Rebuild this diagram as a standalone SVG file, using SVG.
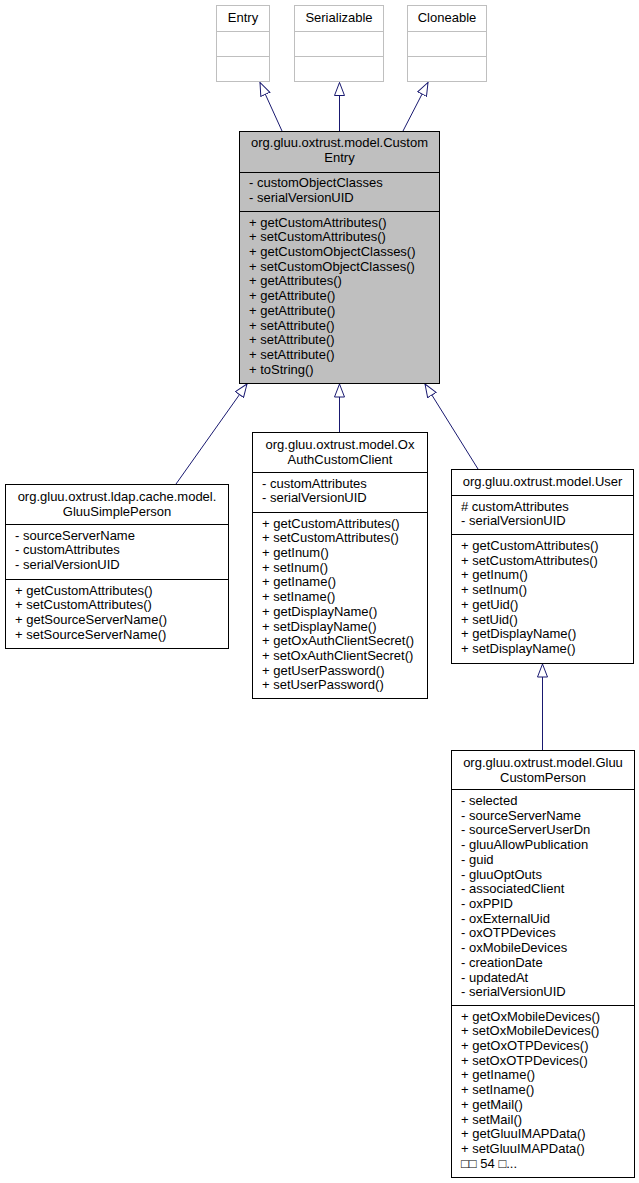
<svg xmlns="http://www.w3.org/2000/svg" width="639" height="1183" viewBox="0 0 639 1183">
<style>
text{font-family:"Liberation Sans",Arial,sans-serif;font-size:13px;fill:#000}
.c{text-anchor:middle}
.ext{fill:#fff;stroke:#bfbfbf;stroke-width:1}
.extl{stroke:#bfbfbf;stroke-width:1}
.box{fill:#fff;stroke:#000;stroke-width:1}
.cur{fill:#bfbfbf;stroke:#000;stroke-width:1}
.div{stroke:#000;stroke-width:1}
.edge{stroke:#191970;stroke-width:1;fill:none;marker-end:url(#inh)}
</style>
<defs>
<marker id="inh" viewBox="0 0 14 11" markerWidth="14" markerHeight="11" refX="13.5" refY="5.5" orient="auto" markerUnits="userSpaceOnUse">
<path d="M0.5,0.5 L13.5,5.5 L0.5,10.5 Z" fill="#fff" stroke="#191970" stroke-width="1"/>
</marker>
</defs>
<rect width="639" height="1183" fill="#fff"/>

<g id="connectors">
<line class="edge" x1="282" y1="131" x2="260" y2="82.5"/>
<line class="edge" x1="339.5" y1="131" x2="339.5" y2="82.5"/>
<line class="edge" x1="403" y1="131" x2="428" y2="82.5"/>
<line class="edge" x1="176" y1="484" x2="247" y2="384"/>
<line class="edge" x1="339.5" y1="432" x2="339.5" y2="384"/>
<line class="edge" x1="478" y1="469" x2="425" y2="384"/>
<line class="edge" x1="542.5" y1="750" x2="542.5" y2="664"/>
</g>

<g id="node-entry">
<rect class="ext" x="216.5" y="5.5" width="53" height="76"/>
<line class="extl" x1="216.5" y1="31.5" x2="269.5" y2="31.5"/>
<line class="extl" x1="216.5" y1="56.5" x2="269.5" y2="56.5"/>
<text class="c" x="243" y="22">Entry</text>
</g>
<g id="node-serializable">
<rect class="ext" x="294.5" y="5.5" width="89" height="76"/>
<line class="extl" x1="294.5" y1="31.5" x2="383.5" y2="31.5"/>
<line class="extl" x1="294.5" y1="56.5" x2="383.5" y2="56.5"/>
<text class="c" x="339" y="22">Serializable</text>
</g>
<g id="node-cloneable">
<rect class="ext" x="407.5" y="5.5" width="79" height="76"/>
<line class="extl" x1="407.5" y1="31.5" x2="486.5" y2="31.5"/>
<line class="extl" x1="407.5" y1="56.5" x2="486.5" y2="56.5"/>
<text class="c" x="447" y="22">Cloneable</text>
</g>

<g id="node-customentry">
<rect class="cur" x="239.5" y="131.5" width="200" height="252"/>
<line class="div" x1="239.5" y1="172.5" x2="439.5" y2="172.5"/>
<line class="div" x1="239.5" y1="211.5" x2="439.5" y2="211.5"/>
<text class="c" x="339.5" y="147">org.gluu.oxtrust.model.Custom</text>
<text class="c" x="339.5" y="162">Entry</text>
<text x="249" y="187">- customObjectClasses<tspan x="249" dy="14.7">- serialVersionUID</tspan></text>
<text x="249" y="226.5">+ getCustomAttributes()<tspan x="249" dy="14.72">+ setCustomAttributes()</tspan><tspan x="249" dy="14.72">+ getCustomObjectClasses()</tspan><tspan x="249" dy="14.72">+ setCustomObjectClasses()</tspan><tspan x="249" dy="14.72">+ getAttributes()</tspan><tspan x="249" dy="14.72">+ getAttribute()</tspan><tspan x="249" dy="14.72">+ getAttribute()</tspan><tspan x="249" dy="14.72">+ setAttribute()</tspan><tspan x="249" dy="14.72">+ setAttribute()</tspan><tspan x="249" dy="14.72">+ setAttribute()</tspan><tspan x="249" dy="14.72">+ toString()</tspan></text>
</g>

<g id="node-gluusimpleperson">
<rect class="box" x="5.5" y="484.5" width="223" height="164"/>
<line class="div" x1="5.5" y1="524.5" x2="228.5" y2="524.5"/>
<line class="div" x1="5.5" y1="579.5" x2="228.5" y2="579.5"/>
<text class="c" x="117" y="500.5">org.gluu.oxtrust.ldap.cache.model.</text>
<text class="c" x="117" y="515.5">GluuSimplePerson</text>
<text x="15" y="539.5">- sourceServerName<tspan x="15" dy="14.72">- customAttributes</tspan><tspan x="15" dy="14.72">- serialVersionUID</tspan></text>
<text x="15" y="594.5">+ getCustomAttributes()<tspan x="15" dy="14.72">+ setCustomAttributes()</tspan><tspan x="15" dy="14.72">+ getSourceServerName()</tspan><tspan x="15" dy="14.72">+ setSourceServerName()</tspan></text>
</g>

<g id="node-oxauthcustomclient">
<rect class="box" x="252.5" y="432.5" width="175" height="266"/>
<line class="div" x1="252.5" y1="472.5" x2="427.5" y2="472.5"/>
<line class="div" x1="252.5" y1="512.5" x2="427.5" y2="512.5"/>
<text class="c" x="340" y="448.5">org.gluu.oxtrust.model.Ox</text>
<text class="c" x="340" y="463.5">AuthCustomClient</text>
<text x="262" y="487.5">- customAttributes<tspan x="262" dy="14.72">- serialVersionUID</tspan></text>
<text x="262" y="527.5">+ getCustomAttributes()<tspan x="262" dy="14.72">+ setCustomAttributes()</tspan><tspan x="262" dy="14.72">+ getInum()</tspan><tspan x="262" dy="14.72">+ setInum()</tspan><tspan x="262" dy="14.72">+ getIname()</tspan><tspan x="262" dy="14.72">+ setIname()</tspan><tspan x="262" dy="14.72">+ getDisplayName()</tspan><tspan x="262" dy="14.72">+ setDisplayName()</tspan><tspan x="262" dy="14.72">+ getOxAuthClientSecret()</tspan><tspan x="262" dy="14.72">+ setOxAuthClientSecret()</tspan><tspan x="262" dy="14.72">+ getUserPassword()</tspan><tspan x="262" dy="14.72">+ setUserPassword()</tspan></text>
</g>

<g id="node-user">
<rect class="box" x="451.5" y="469.5" width="182" height="194"/>
<line class="div" x1="451.5" y1="495.5" x2="633.5" y2="495.5"/>
<line class="div" x1="451.5" y1="534.5" x2="633.5" y2="534.5"/>
<text class="c" x="542.5" y="486">org.gluu.oxtrust.model.User</text>
<text x="461" y="510.5"># customAttributes<tspan x="461" dy="14.72">- serialVersionUID</tspan></text>
<text x="461" y="550">+ getCustomAttributes()<tspan x="461" dy="14.72">+ setCustomAttributes()</tspan><tspan x="461" dy="14.72">+ getInum()</tspan><tspan x="461" dy="14.72">+ setInum()</tspan><tspan x="461" dy="14.72">+ getUid()</tspan><tspan x="461" dy="14.72">+ setUid()</tspan><tspan x="461" dy="14.72">+ getDisplayName()</tspan><tspan x="461" dy="14.72">+ setDisplayName()</tspan></text>
</g>

<g id="node-gluucustomperson">
<rect class="box" x="451.5" y="750.5" width="183" height="427"/>
<line class="div" x1="451.5" y1="789.5" x2="634.5" y2="789.5"/>
<line class="div" x1="451.5" y1="1005.5" x2="634.5" y2="1005.5"/>
<text class="c" x="543" y="766.5">org.gluu.oxtrust.model.Gluu</text>
<text class="c" x="543" y="781.5">CustomPerson</text>
<text x="461" y="805">- selected<tspan x="461" dy="14.72">- sourceServerName</tspan><tspan x="461" dy="14.72">- sourceServerUserDn</tspan><tspan x="461" dy="14.72">- gluuAllowPublication</tspan><tspan x="461" dy="14.72">- guid</tspan><tspan x="461" dy="14.72">- gluuOptOuts</tspan><tspan x="461" dy="14.72">- associatedClient</tspan><tspan x="461" dy="14.72">- oxPPID</tspan><tspan x="461" dy="14.72">- oxExternalUid</tspan><tspan x="461" dy="14.72">- oxOTPDevices</tspan><tspan x="461" dy="14.72">- oxMobileDevices</tspan><tspan x="461" dy="14.72">- creationDate</tspan><tspan x="461" dy="14.72">- updatedAt</tspan><tspan x="461" dy="14.72">- serialVersionUID</tspan></text>
<text x="461" y="1020.5">+ getOxMobileDevices()<tspan x="461" dy="14.72">+ setOxMobileDevices()</tspan><tspan x="461" dy="14.72">+ getOxOTPDevices()</tspan><tspan x="461" dy="14.72">+ setOxOTPDevices()</tspan><tspan x="461" dy="14.72">+ getIname()</tspan><tspan x="461" dy="14.72">+ setIname()</tspan><tspan x="461" dy="14.72">+ getMail()</tspan><tspan x="461" dy="14.72">+ setMail()</tspan><tspan x="461" dy="14.72">+ getGluuIMAPData()</tspan><tspan x="461" dy="14.72">+ setGluuIMAPData()</tspan><tspan x="461" dy="14.72">□□ 54 □...</tspan></text>
</g>
</svg>
